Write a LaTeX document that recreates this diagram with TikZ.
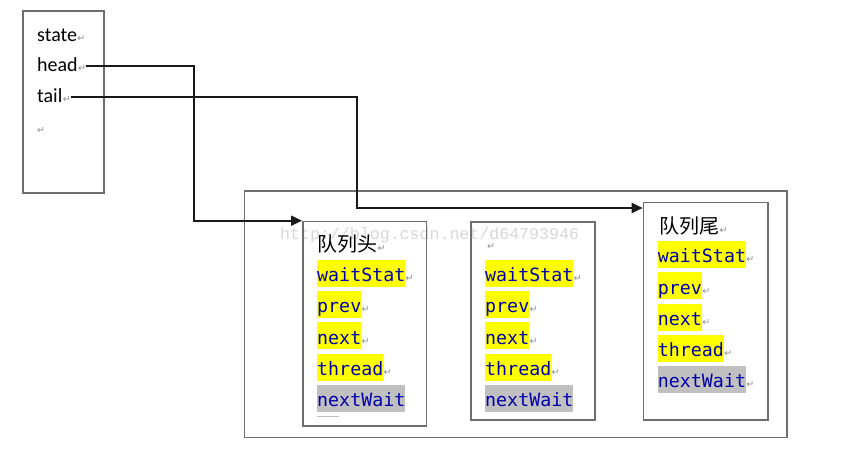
\documentclass[tikz,border=0pt]{standalone}
\usepackage{fontspec}
\setmainfont{Carlito}
\newfontfamily\monof{DejaVu Sans Mono}
\newfontfamily\cjkf{Noto Sans CJK SC}
\newfontfamily\symf{DejaVu Sans}
\newfontfamily\wmf{Liberation Mono}
\usetikzlibrary{arrows.meta}
\definecolor{bordergray}{RGB}{110,110,110}
\definecolor{retgray}{RGB}{140,140,140}
\definecolor{codeblue}{RGB}{0,0,170}
\definecolor{hlyellow}{RGB}{255,255,0}
\definecolor{hlgray}{RGB}{192,192,192}
\definecolor{wmgray}{RGB}{215,215,215}
\begin{document}
\begin{tikzpicture}[x=1pt,y=-1pt,
  box/.style={draw=bordergray,line width=1.6pt,anchor=north west,inner sep=0pt},
  fieldtext/.style={font=\monof\fontsize{18.3}{20}\selectfont,text=codeblue,inner xsep=0pt,inner ysep=0pt,
     minimum height=27pt,text height=17pt,text depth=0pt,anchor=west},
  yhl/.style={fieldtext,fill=hlyellow},
  ghl/.style={fieldtext,fill=hlgray},
  ret/.style={font=\symf\fontsize{9.5}{10}\selectfont,text=retgray,inner sep=0pt,anchor=base west},
  lbl/.style={font=\fontsize{20}{24}\selectfont,inner sep=0pt,anchor=base west},
  cjk/.style={font=\cjkf\fontsize{20}{24}\selectfont,inner sep=0pt,anchor=west},
  conn/.style={line width=2pt,draw=black!90},
  arr/.style={conn,-{Triangle[length=11pt,width=10pt]}}]
\useasboundingbox (0,0) rectangle (842,450);

% watermark
\node[font=\wmf\fontsize{16.6}{18}\selectfont,text=wmgray,inner sep=0pt,anchor=base west] (wm) at (280,239) {http://blog.csdn.net/d64793946};

% left structure
\node[box,minimum width=81pt,minimum height=182pt] (left) at (22,10) {};
\node[lbl] (st) at (37,41) {state};
\node[ret] (str) at (st.base east) {↵};
\node[lbl] (hd) at (37,71.5) {head};
\node[ret] (hdr) at (hd.base east) {↵};
\node[lbl] (tl) at (37,102.5) {tail};
\node[ret] (tlr) at (tl.base east) {↵};
\node[ret] (er) at (37,133) {↵};

% outer queue box
\node[box,minimum width=542.5pt,minimum height=246.5pt] (outer) at (243.5,190) {};

% node 1
\node[box,minimum width=123.7pt,minimum height=204.3pt] (n1) at (302,220.7) {};
\node[cjk] (t1) at (317,244) {队列头};
\node[ret] (t1r) at (t1.base east) {↵};
\node[yhl] (a1) at (317,273.3) {waitStat};
\node[ret] (a1r) at (a1.base east) {↵};
\node[yhl] (b1) at (317,304.4) {prev};
\node[ret] (b1r) at (b1.base east) {↵};
\node[yhl] (c1) at (317,335.7) {next};
\node[ret] (c1r) at (c1.base east) {↵};
\node[yhl] (d1) at (317,367.3) {thread};
\node[ret] (d1r) at (d1.base east) {↵};
\node[ghl] (e1) at (317,398.3) {nextWait};
\draw[draw=hlgray,line width=0.8pt] (e1.south west) ++(0,4.5) -- ++(22,0);

% node 2
\node[box,minimum width=124pt,minimum height=198pt] (n2) at (470,221) {};
\node[ret] (t2r) at (487,249) {↵};
\node[yhl] (a2) at (485,273.3) {waitStat};
\node[ret] (a2r) at (a2.base east) {↵};
\node[yhl] (b2) at (485,304.4) {prev};
\node[ret] (b2r) at (b2.base east) {↵};
\node[yhl] (c2) at (485,335.7) {next};
\node[ret] (c2r) at (c2.base east) {↵};
\node[yhl] (d2) at (485,367.3) {thread};
\node[ret] (d2r) at (d2.base east) {↵};
\node[ghl] (e2) at (485,398.3) {nextWait};

% node 3
\node[box,minimum width=124.3pt,minimum height=217.3pt] (n3) at (642.7,201.7) {};
\node[cjk] (t3) at (659,226) {队列尾};
\node[ret] (t3r) at (t3.base east) {↵};
\node[yhl] (a3) at (657.7,254.3) {waitStat};
\node[ret] (a3r) at (a3.base east) {↵};
\node[yhl] (b3) at (657.7,285.7) {prev};
\node[ret] (b3r) at (b3.base east) {↵};
\node[yhl] (c3) at (657.7,317) {next};
\node[ret] (c3r) at (c3.base east) {↵};
\node[yhl] (d3) at (657.7,348.3) {thread};
\node[ret] (d3r) at (d3.base east) {↵};
\node[ghl] (e3) at (657.7,379.3) {nextWait};
\node[ret] (e3r) at (e3.base east) {↵};

% connectors
\path (hdr.east) ++(0,-3) coordinate (h0);
\path (tlr.east) ++(0,-3) coordinate (t0);
\path (n3.north west) ++(0,6.3) coordinate (tt);
\draw[arr] (h0) -| (194,150) |- (n1.north west);
\draw[arr] (t0) -| (357,150) |- (tt);
\end{tikzpicture}
\end{document}
